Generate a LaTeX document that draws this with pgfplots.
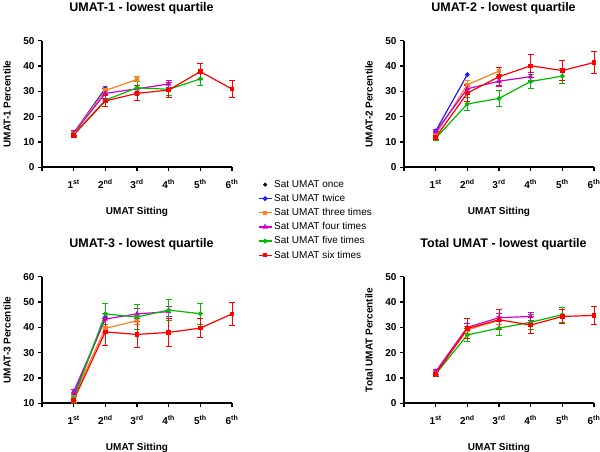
\documentclass[border=0pt]{standalone}
\usepackage{fontspec}
\setmainfont{Liberation Sans}
\usepackage{pgfplots}
\pgfplotsset{compat=1.18}

\definecolor{umblue}{HTML}{1F1FFF}
\definecolor{umorange}{HTML}{FF7F1F}
\definecolor{ummagenta}{HTML}{CC00CC}
\definecolor{umgreen}{HTML}{00BB00}
\definecolor{umred}{HTML}{FF0000}

\pgfplotsset{
  umat/.style={
    scale only axis, width=190pt, height=126.6pt,
    xmin=0, xmax=6, xtick={0,...,6},
    xticklabels={,1\textsuperscript{st},2\textsuperscript{nd},3\textsuperscript{rd},4\textsuperscript{th},5\textsuperscript{th},6\textsuperscript{th}},
    axis lines=left, axis line style={-, line width=1.6pt},
    tick style={black, line width=1.2pt}, major tick length=4pt, tick align=outside,
    minor tick num=0,
    /pgf/number format/assume math mode=true,
    ticklabel style={font=\bfseries\fontsize{10}{12}\selectfont},
    xticklabel style={yshift=-5pt},
    xlabel={UMAT Sitting},
    xlabel style={font=\bfseries\fontsize{10}{12}\selectfont, at={(axis description cs:0.5,-0.35)}, anchor=center},
    ylabel style={font=\bfseries\fontsize{10}{12}\selectfont, at={(axis description cs:-0.184,0.5)}, anchor=center},
    title style={font=\bfseries\fontsize{12.5}{14}\selectfont, at={(axis description cs:0.524,1.21)}, anchor=center},
    clip=false,
  },
  s1/.style={black, only marks, mark=*, mark size=1.8pt},
  s2/.style={umblue, line width=1.2pt, mark=*, mark size=1.8pt},
  s3/.style={umorange, line width=1.2pt, mark=square*, mark size=1.6pt},
  s4/.style={ummagenta, line width=1.2pt, mark=triangle*, mark size=2pt},
  s5/.style={umgreen, line width=1.2pt, mark=*, mark size=1.8pt},
  s6/.style={umred, line width=1.2pt, mark=square*, mark size=1.6pt},
  eb/.style={error bars/.cd, y dir=both, y explicit,
    error bar style={line width=1pt},
    error mark options={rotate=90, mark size=3pt, line width=1pt}},
}

\begin{document}
\begin{tikzpicture}
\useasboundingbox (0,0) rectangle (600pt,452pt);

% UMAT-1
\begin{axis}[umat, at={(42pt,284.7pt)}, anchor=south west,
    ymin=0, ymax=50, ytick={0,10,...,50},
    title={UMAT-1 - lowest quartile}, ylabel={UMAT-1 Percentile},
    legend style={at={(axis description cs:1.12,-0.07)}, anchor=north west,
      draw=none, fill=none, font=\fontsize{10}{12}\selectfont, row sep=1.4pt,
      legend cell align=left},
    legend image code/.code={\draw[mark repeat=2,mark phase=2,#1] plot coordinates {(0pt,0pt) (6.5pt,0pt) (13pt,0pt)};},
]
\addplot[s1] coordinates {(1,13)};
\addplot[s2] coordinates {(1,13.5) (2,31.2)};
\addplot[s3, eb] coordinates {(1,13.5) +- (0,1) (2,30.3) +- (0,1.5) (3,34.7) +- (0,1)};
\addplot[s4, eb] coordinates {(1,13.5) +- (0,1) (2,29.2) +- (0,2) (3,31) +- (0,1.5) (4,32.9) +- (0,1.5)};
\addplot[s5, eb] coordinates {(1,13) +- (0,1) (2,26.5) +- (0,2.5) (3,31.4) +- (0,2.5) (4,30.8) +- (0,2.5) (5,34.9) +- (0,2.5)};
\addplot[s6, eb] coordinates {(1,12.8) +- (0,1) (2,26.2) +- (0,2) (3,29.2) +- (0,3) (4,30.5) +- (0,3) (5,37.8) +- (0,3.2) (6,30.9) +- (0,3.3)};
\legend{Sat UMAT once, Sat UMAT twice, Sat UMAT three times, Sat UMAT four times, Sat UMAT five times, Sat UMAT six times}
\end{axis}

% UMAT-2
\begin{axis}[umat, at={(404pt,284.7pt)}, anchor=south west,
    ymin=0, ymax=50, ytick={0,10,...,50},
    title={UMAT-2 - lowest quartile}, ylabel={UMAT-2 Percentile}]
\addplot[s1] coordinates {(1,12)};
\addplot[s2] coordinates {(1,14.3) (2,36.6)};
\addplot[s3, eb] coordinates {(1,13) +- (0,1) (2,32.6) +- (0,1.5) (3,38) +- (0,1.5)};
\addplot[s4, eb] coordinates {(1,14) +- (0,1) (2,31) +- (0,1.5) (3,34) +- (0,2) (4,35.8) +- (0,1.5)};
\addplot[s5, eb] coordinates {(1,11.5) +- (0,1) (2,25) +- (0,2.5) (3,27.2) +- (0,3) (4,33.9) +- (0,2.8) (5,36) +- (0,3)};
\addplot[s6, eb] coordinates {(1,11.8) +- (0,1) (2,29.3) +- (0,3.5) (3,35.8) +- (0,3.5) (4,40.1) +- (0,4.6) (5,38.2) +- (0,4) (6,41.4) +- (0,4.3)};
\end{axis}

% UMAT-3
\begin{axis}[umat, at={(42pt,48.7pt)}, anchor=south west,
    ymin=10, ymax=60, ytick={10,20,...,60},
    title={UMAT-3 - lowest quartile}, ylabel={UMAT-3 Percentile}]
\addplot[s1] coordinates {(1,12)};
\addplot[s2] coordinates {(1,13) (2,44)};
\addplot[s3, eb] coordinates {(1,12.5) +- (0,1.5) (2,39.6) +- (0,1.5) (3,42.6) +- (0,1.5)};
\addplot[s4, eb] coordinates {(1,14.6) +- (0,1) (2,43.3) +- (0,2) (3,45.3) +- (0,2) (4,46.2) +- (0,2)};
\addplot[s5, eb] coordinates {(1,12) +- (0,1.5) (2,45.3) +- (0,4.3) (3,44.1) +- (0,5) (4,46.8) +- (0,4) (5,45.4) +- (0,4.2)};
\addplot[s6, eb] coordinates {(1,11.3) +- (0,1.5) (2,38.2) +- (0,5.3) (3,37.2) +- (0,5) (4,38) +- (0,5.5) (5,39.7) +- (0,3.8) (6,45.3) +- (0,4.6)};
\end{axis}

% Total UMAT
\begin{axis}[umat, at={(404pt,48.7pt)}, anchor=south west,
    ymin=0, ymax=50, ytick={0,10,...,50},
    title={Total UMAT - lowest quartile}, ylabel={Total UMAT Percentile}]
\addplot[s1] coordinates {(1,12)};
\addplot[s2] coordinates {(1,12) (2,29.5)};
\addplot[s3, eb] coordinates {(1,12) +- (0,1) (2,29) +- (0,1.5) (3,32.8) +- (0,1.5)};
\addplot[s4, eb] coordinates {(1,12.5) +- (0,1) (2,30) +- (0,1.5) (3,33.8) +- (0,1.5) (4,34.3) +- (0,1.5)};
\addplot[s5, eb] coordinates {(1,11.5) +- (0,1) (2,27) +- (0,2.5) (3,29.7) +- (0,3) (4,32) +- (0,3) (5,35) +- (0,3)};
\addplot[s6, eb] coordinates {(1,11.6) +- (0,1) (2,29.5) +- (0,3.8) (3,33) +- (0,4) (4,30.9) +- (0,3.3) (5,34.3) +- (0,2.8) (6,34.7) +- (0,3.4)};
\end{axis}
\end{tikzpicture}
\end{document}
